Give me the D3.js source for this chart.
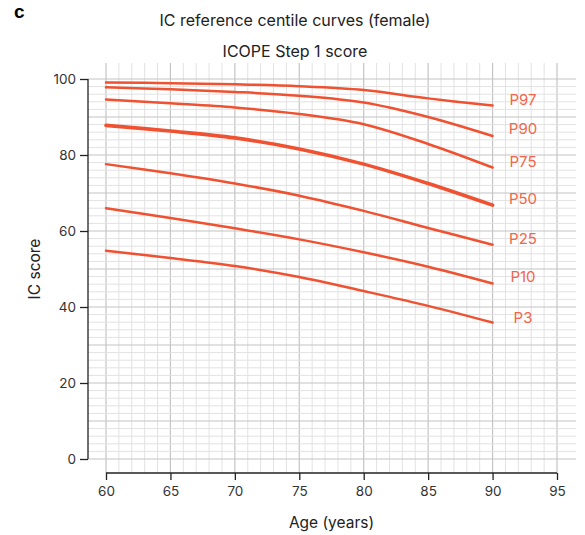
<!DOCTYPE html>
<html>
<head>
<meta charset="utf-8">
<script src="https://cdn.jsdelivr.net/npm/d3@7"></script>
<style>
  body { margin: 0; background: #fff; }
  text { font-family: Inter, "Liberation Sans", sans-serif; }
</style>
</head>
<body>
<svg id="chart" width="585" height="535"></svg>
<script>
// ages at which the centiles were read
const ages = [60, 65, 70, 75, 80, 85, 90];
const p97 = [99.1, 98.9, 98.6, 98.1, 97.1, 94.9, 93.0];
const p90 = [97.8, 97.3, 96.6, 95.6, 93.8, 90.0, 85.0];
const p75 = [94.6, 93.6, 92.5, 90.8, 88.1, 82.9, 76.7];
const p50 = [87.8, 86.3, 84.5, 81.6, 77.6, 72.5, 66.8];
const p25 = [77.6, 75.2, 72.5, 69.3, 65.3, 60.8, 56.4];
const p10 = [66.0, 63.4, 60.7, 57.8, 54.4, 50.6, 46.2];
const p3  = [54.8, 52.9, 50.8, 47.9, 44.2, 40.3, 35.9];
const centileNames = ['P97', 'P90', 'P75', 'P50', 'P25', 'P10', 'P3'];
const xTicks = [60, 65, 70, 75, 80, 85, 90, 95];
const yTicks = [0, 20, 40, 60, 80, 100];

const series = [p97, p90, p75, p50, p25, p10, p3].map((vals, i) => ({
  name: centileNames[i],
  values: vals.map((v, j) => ({ age: ages[j], score: v }))
}));

const svg = d3.select('#chart');
const red = '#ef5131';

const x = d3.scaleLinear().domain([60, 95]).range([106, 557]);
const y = d3.scaleLinear().domain([0, 100]).range([459, 79]);

// grid
const grid = svg.append('g');
grid.selectAll('line.v')
  .data(d3.range(60, 96, 1))
  .join('line')
  .attr('x1', d => x(d)).attr('x2', d => x(d))
  .attr('y1', 63).attr('y2', 473)
  .attr('stroke', d => d % 5 === 0 ? '#c4c4c4' : '#e2e2e2')
  .attr('stroke-width', d => d % 5 === 0 ? 1.2 : 1);
grid.selectAll('line.h')
  .data(d3.range(0, 101, 2))
  .join('line')
  .attr('x1', 88).attr('x2', 576)
  .attr('y1', d => y(d)).attr('y2', d => y(d))
  .attr('stroke', d => d % 10 === 0 ? '#c4c4c4' : '#e2e2e2')
  .attr('stroke-width', d => d % 10 === 0 ? 1.2 : 1);

// axes
const xAxis = svg.append('g')
  .attr('transform', 'translate(0,473)')
  .call(d3.axisBottom(x).tickValues(xTicks).tickSize(7).tickPadding(6));
const yAxis = svg.append('g')
  .attr('transform', 'translate(88,0)')
  .call(d3.axisLeft(y).tickValues(yTicks).tickSize(8).tickPadding(4));
[xAxis, yAxis].forEach(a => {
  a.select('.domain').attr('stroke', '#222').attr('stroke-width', 1.3);
  a.selectAll('.tick line').attr('stroke', '#222').attr('stroke-width', 1.3);
  a.selectAll('.tick text').attr('fill', '#333').style('font-size', '13.5px');
});
xAxis.select('.domain').attr('d', `M${x(60)},0H${x(95)}`);
yAxis.select('.domain').attr('d', `M0,${y(100)}V${y(0)}`);

// centile curves
const line = d3.line()
  .x(d => x(d.age))
  .y(d => y(d.score))
  .curve(d3.curveCatmullRom.alpha(0.5));

svg.append('g').selectAll('path')
  .data(series)
  .join('path')
  .attr('d', d => line(d.values))
  .attr('fill', 'none')
  .attr('stroke', red)
  .attr('stroke-width', d => d.name === 'P50' ? 3.6 : 2.5)
  .attr('stroke-linecap', 'round');

// labels at the right end
const labelOffsets = { P97: -5, P90: -6, P75: -5, P50: -5, P25: -5, P10: -6, P3: -4 };
svg.append('g').selectAll('text')
  .data(series)
  .join('text')
  .attr('x', 523)
  .attr('y', d => y(d.values[d.values.length - 1].score) + labelOffsets[d.name])
  .attr('text-anchor', 'middle')
  .attr('dominant-baseline', 'middle')
  .attr('fill', '#f2654a')
  .style('font-size', '15px')
  .text(d => d.name);

// titles
svg.append('text').attr('x', 14).attr('y', 18)
  .style('font-size', '19px').style('font-weight', 900)
  .style('font-family', '"Liberation Sans", Arial, sans-serif')
  .text('c');
svg.append('text').attr('x', 295).attr('y', 26).attr('text-anchor', 'middle')
  .attr('fill', '#222').style('font-size', '16px')
  .text('IC reference centile curves (female)');
svg.append('text').attr('x', 295).attr('y', 57).attr('text-anchor', 'middle')
  .attr('fill', '#222').style('font-size', '16px')
  .text('ICOPE Step 1 score');
svg.append('text').attr('x', x(77.5)).attr('y', 528).attr('text-anchor', 'middle')
  .attr('fill', '#222').style('font-size', '15.5px')
  .text('Age (years)');
svg.append('text')
  .attr('transform', `translate(40,${y(50)}) rotate(-90)`)
  .attr('text-anchor', 'middle')
  .attr('fill', '#222').style('font-size', '15.5px')
  .text('IC score');
</script>
</body>
</html>
